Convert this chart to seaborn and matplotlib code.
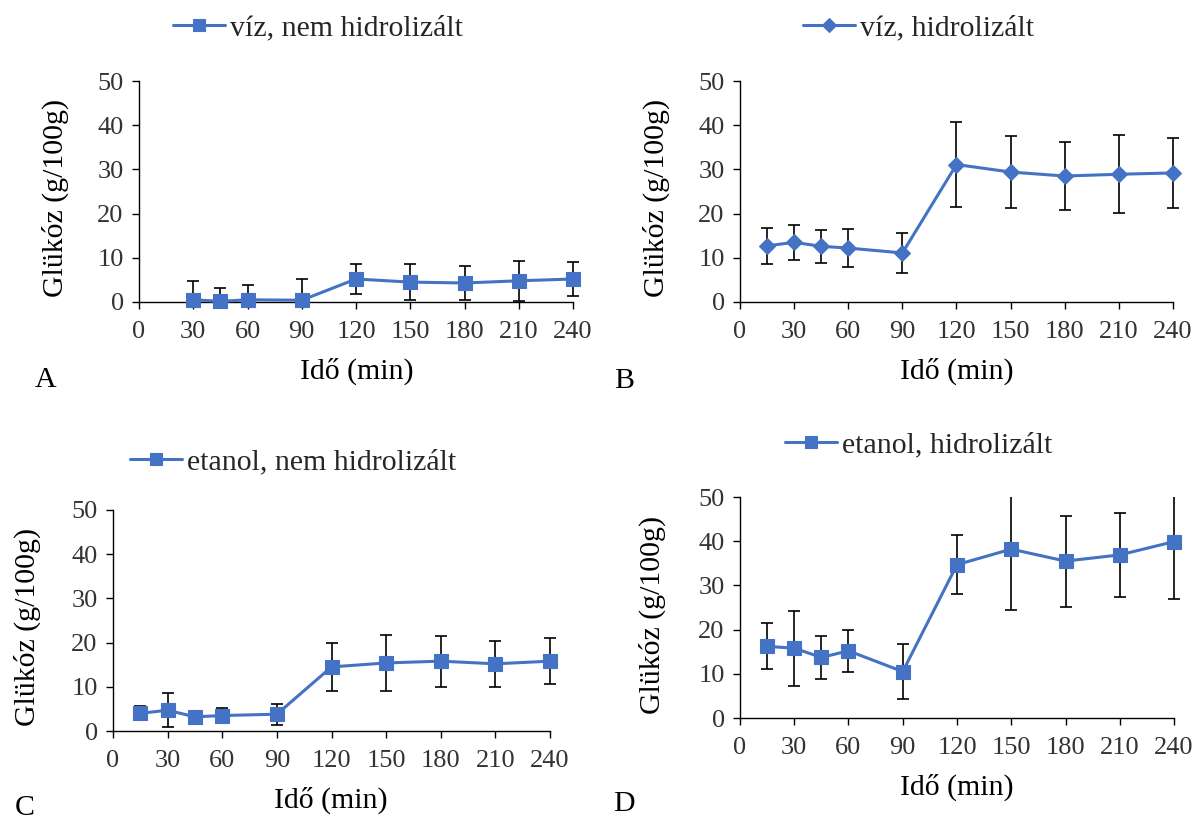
import matplotlib
matplotlib.use("Agg")
import matplotlib.pyplot as plt
from matplotlib.transforms import Bbox, TransformedBbox
import seaborn as sns
import pandas as pd

# Glucose release over time (g/100g), mean ± SD for each treatment
time_a = [30, 45, 60, 90, 120, 150, 180, 210, 240]
mean_a = [0.5, 0.15, 0.5, 0.4, 5.2, 4.5, 4.3, 4.8, 5.2]
err_a = [4.2, 3.0, 3.4, 4.7, 3.3, 4.0, 3.8, 4.5, 3.8]

time_b = [15, 30, 45, 60, 90, 120, 150, 180, 210, 240]
mean_b = [12.7, 13.5, 12.6, 12.2, 11.1, 31.1, 29.4, 28.5, 28.9, 29.2]
err_b = [4.0, 4.0, 3.8, 4.3, 4.5, 9.7, 8.2, 7.7, 8.8, 7.9]

time_c = [15, 30, 45, 60, 90, 120, 150, 180, 210, 240]
mean_c = [4.0, 4.7, 3.2, 3.5, 3.8, 14.5, 15.4, 15.8, 15.2, 15.8]
err_c = [1.6, 3.9, 0.8, 1.8, 2.4, 5.4, 6.4, 5.8, 5.2, 5.2]

time_d = [15, 30, 45, 60, 90, 120, 150, 180, 210, 240]
mean_d = [16.2, 15.8, 13.7, 15.2, 10.5, 34.7, 38.2, 35.5, 36.9, 39.9]
err_d = [5.2, 8.5, 4.9, 4.7, 6.2, 6.6, 13.7, 10.3, 9.5, 12.9]

series_names = ["víz, nem hidrolizált", "víz, hidrolizált",
                "etanol, nem hidrolizált", "etanol, hidrolizált"]
panel_letters = ["A", "B", "C", "D"]
x_ticks = [0, 30, 60, 90, 120, 150, 180, 210, 240]
y_ticks = [0, 10, 20, 30, 40, 50]
x_label = "Idő (min)"
y_label = "Glükóz (g/100g)"

sns.set_theme(style="white")
plt.rcParams["font.family"] = ["Liberation Serif", "DejaVu Serif"]

W, H = 1194, 822
fig = plt.figure(figsize=(W / 100, H / 100), dpi=100)

BLUE = "#4472C4"
TICK_GREY = "#333333"
LABEL_SIZE = 21.5
TICK_SIZE = 19


def px_axes(left, right, top, bottom):
    return fig.add_axes([left / W, 1 - bottom / H, (right - left) / W, (bottom - top) / H])


panels = [
    dict(t=time_a, m=mean_a, e=err_a, marker="s", ms=9.5,
         box=(139, 573, 81, 302), leg=(178, 28), ylab=(55, 198), xlab=(357, 371), letter=(46, 380)),
    dict(t=time_b, m=mean_b, e=err_b, marker="D", ms=8,
         box=(740, 1173, 81, 302), leg=(808, 28), ylab=(656, 198), xlab=(957, 371), letter=(624, 381)),
    dict(t=time_c, m=mean_c, e=err_c, marker="s", ms=9.5,
         box=(113, 550, 510, 731), leg=(135, 462), ylab=(27, 627), xlab=(331, 800), letter=(25, 808)),
    dict(t=time_d, m=mean_d, e=err_d, marker="s", ms=9.5,
         box=(740, 1174, 497, 718), leg=(790, 445), ylab=(652, 615), xlab=(957, 787), letter=(624, 804)),
]

for p, name, letter in zip(panels, series_names, panel_letters):
    ax = px_axes(*p["box"])
    df = pd.DataFrame({"t": p["t"], "m": p["m"], "e": p["e"]})

    # error bars are clipped to the plotting band vertically, but may overhang at the sides
    clip = TransformedBbox(Bbox([[-0.05, 0.0], [1.05, 1.0]]), ax.transAxes)
    eb = ax.errorbar(df["t"], df["m"], yerr=df["e"], fmt="none", ecolor="black",
                     elinewidth=1.2, capsize=4.2, capthick=1.2, zorder=2)
    for artist in eb.lines[1] + eb.lines[2]:
        artist.set_clip_box(clip)
        artist.set_clip_path(None)

    sns.lineplot(data=df, x="t", y="m", ax=ax, color=BLUE, linewidth=2.2,
                 marker=p["marker"], markersize=p["ms"], markeredgecolor=BLUE,
                 markeredgewidth=0.8, label=name, zorder=3, legend=False, clip_on=False)

    ax.set_xlim(0, 240)
    ax.set_ylim(0, 50)
    ax.set_xticks(x_ticks)
    ax.set_yticks(y_ticks)
    ax.set_xlabel("")
    ax.set_ylabel("")
    for s in ["top", "right"]:
        ax.spines[s].set_visible(False)
    for s in ["left", "bottom"]:
        ax.spines[s].set_color("black")
        ax.spines[s].set_linewidth(1.0)
    ax.tick_params(axis="both", direction="out", length=5, width=1.0, color="black",
                   labelsize=TICK_SIZE, labelcolor=TICK_GREY, left=True, bottom=True)
    ax.tick_params(axis="x", pad=9)
    ax.tick_params(axis="y", pad=6)
    ax.grid(False)

    # legend placed above each panel
    lx, ly = p["leg"]
    fig.legend(handles=ax.get_lines()[-1:], labels=[name], loc="center left",
               bbox_to_anchor=(lx / W - 0.004, 1 - ly / H), frameon=False,
               fontsize=LABEL_SIZE, handlelength=1.75, handletextpad=0.15,
               borderaxespad=0, borderpad=0, markerscale=0.85)

    yx, yy = p["ylab"]
    fig.text(yx / W, 1 - yy / H, y_label, rotation=90, ha="center", va="center",
             fontsize=LABEL_SIZE, color="black")
    xx, xy = p["xlab"]
    fig.text(xx / W, 1 - xy / H, x_label, ha="center", va="center",
             fontsize=LABEL_SIZE, color="black")
    tx, ty = p["letter"]
    fig.text(tx / W, 1 - ty / H, letter, ha="center", va="center",
             fontsize=LABEL_SIZE, color="black")

fig.savefig("out.png", dpi=100, facecolor="white")
